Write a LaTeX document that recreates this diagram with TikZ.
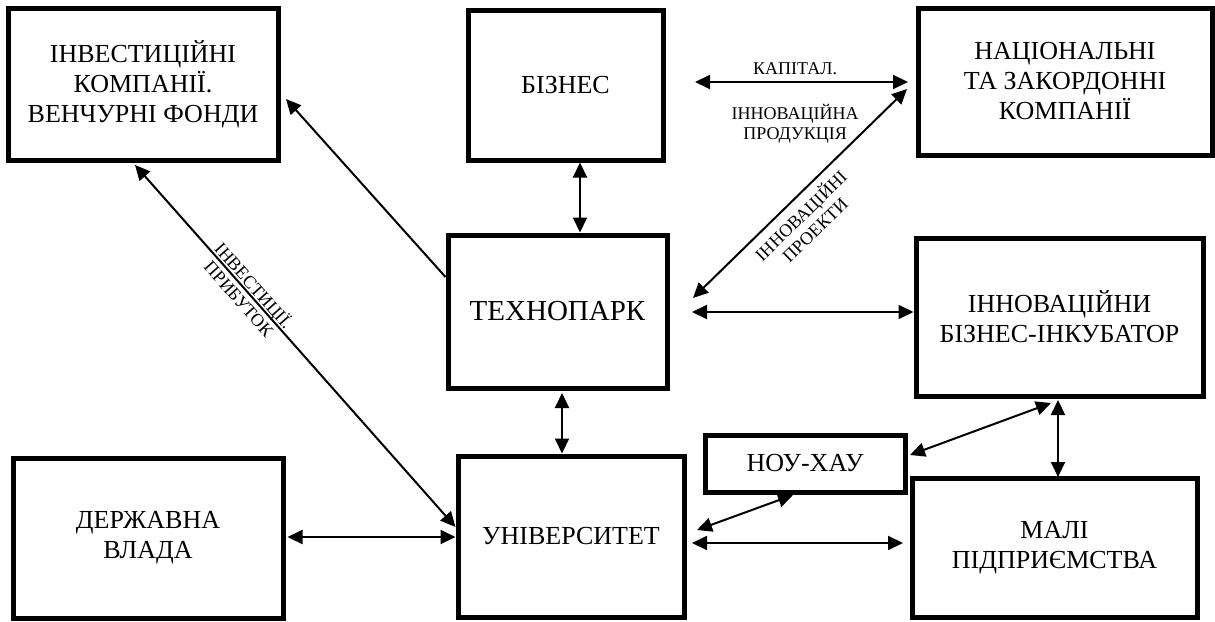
\documentclass[tikz,border=0pt]{standalone}
\usepackage{fontspec}
\setmainfont{Liberation Serif}
\usetikzlibrary{arrows.meta,calc}

\begin{document}
\begin{tikzpicture}[x=0.5pt,y=-0.5pt,
		box/.style={draw,line width=2.5pt,align=center,font=\fontsize{13}{15}\selectfont},
		lbl/.style={align=center,font=\fontsize{9}{10}\selectfont},
		>={Triangle[length=7.5pt,width=7pt]}]
	\useasboundingbox (0,0) rectangle (1215,621);
	% boxes
	\node[box,minimum width=135pt,minimum height=76pt] (inv) at (143,84) {ІНВЕСТИЦІЙНІ\\КОМПАНІЇ.\\ВЕНЧУРНІ ФОНДИ};
	\node[box,minimum width=97.5pt,minimum height=75pt] (biz) at (565.5,85) {БІЗНЕС};
	\node[box,minimum width=147pt,minimum height=73.5pt] (nat) at (1065,81.5) {НАЦІОНАЛЬНІ\\ТА ЗАКОРДОННІ\\КОМПАНІЇ};
	\node[box,minimum width=109.5pt,minimum height=76.5pt,font=\fontsize{14.5}{15}\selectfont] (tech) at (557.5,311.5) {ТЕХНОПАРК};
	\node[box,minimum width=143.5pt,minimum height=79pt] (inc) at (1059.5,317) {ІННОВАЦІЙНИ\\БІЗНЕС-ІНКУБАТОР};
	\node[box,minimum width=135pt,minimum height=80pt] (gov) at (148,538) {ДЕРЖАВНА\\ВЛАДА};
	\node[box,minimum width=113pt,minimum height=80.5pt] (uni) at (571,536.5) {УНІВЕРСИТЕТ};
	\node[box,minimum width=100pt,minimum height=28.5pt] (know) at (805,463.5) {НОУ-ХАУ};
	\node[box,minimum width=142.5pt,minimum height=69.5pt] (small) at (1054.5,547.5) {МАЛІ\\ПІДПРИЄМСТВА};
	% links
	\path[<->,line width=1pt]
	($(biz.south)+(14.5,0)$) edge ($(tech.north)+(22.5,0)$)
	($(tech.south)+(4.5,2.5)$) edge ($(uni.north)+(-9,0)$)
	($(inv.south)+(-8,2.5)$) edge node[lbl,sloped,pos=0.35] {ІНВЕСТИЦІЇ.\\ПРИБУТОК} ($(uni.west)+(0,-9.5)$)
	($(gov.east)+(2,-1)$) edge ($(uni.west)+(0,0.5)$)
	($(uni.east)+(5.5,6.5)$) edge ($(small.west)+(-6.5,-4.5)$)
	($(uni.east)+(10.5,-6.5)$) edge ($(know.south)+(-12,0.5)$)
	($(know.east)+(2.5,-8.5)$) edge ($(inc.south)+(-8.5,4.5)$)
	($(inc.south)+(-1.5,1.5)$) edge ($(small.north)+(3.5,1.5)$)
	($(tech.east)+(22.5,0.5)$) edge ($(inc.west)+(0,-5)$)
	($(tech.east)+(23.5,-13.5)$) edge node[lbl,sloped,below,pos=0.45] {ІННОВАЦІЙНІ\\ПРОЕКТИ} ($(nat.west)+(-8.5,7.5)$)
	($(biz.east)+(29.5,-3)$) edge node[lbl,above,pos=0.47] {КАПІТАЛ.}
		node[lbl,below,pos=0.47,yshift=-7.5pt] {ІННОВАЦІЙНА\\ПРОДУКЦІЯ} ($(nat.west)+(-7.5,0.5)$);
	\path[->,line width=1pt]
	($(tech.west)+(0,-34.5)$) edge ($(inv.east)+(5.5,15)$);
\end{tikzpicture}
\end{document}
